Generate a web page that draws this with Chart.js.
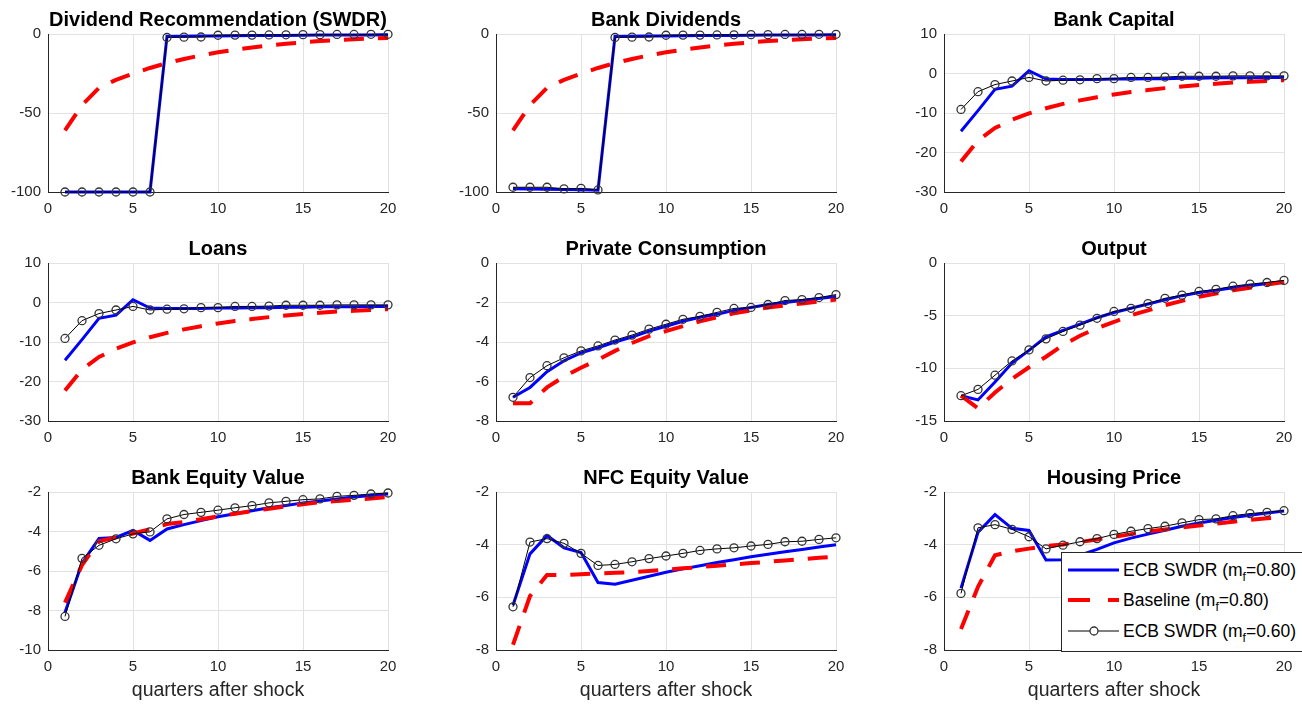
<!DOCTYPE html>
<html lang="en">
<head>
<meta charset="UTF-8">
<title>ECB SWDR impulse responses</title>
<script src="https://cdn.jsdelivr.net/npm/chart.js"></script>
<style>
  body { margin: 0; background: #fff; overflow: hidden; font-family: "Liberation Sans", Arial, sans-serif; }
  #wrap { position: relative; width: 1302px; height: 704px; overflow: hidden; }
  #wrap canvas { position: absolute; }
  #legend {
    position: absolute; left: 1061px; top: 552px; width: 260px; height: 98px;
    background: #fff; border: 1px solid #262626; z-index: 5;
  }
  #legend .row { position: absolute; left: 0; height: 20px; width: 260px; }
  #legend svg { position: absolute; left: 0; top: 0; }
  #legend span { position: absolute; left: 61px; top: 0; line-height: 20px; font-size: 17.5px; color: #000; white-space: nowrap; }
  #legend sub { font-size: 12px; vertical-align: -5px; line-height: 0; }
</style>
</head>
<body>
<div id="wrap">
  <div id="legend">
    <div class="row" style="top:7px">
      <svg width="60" height="20"><line x1="6" y1="10" x2="57" y2="10" stroke="#0000ff" stroke-width="3"/></svg>
      <span>ECB SWDR (m<sub>f</sub>=0.80)</span>
    </div>
    <div class="row" style="top:37px">
      <svg width="60" height="20"><line x1="6" y1="10" x2="57" y2="10" stroke="#ff0000" stroke-width="4" stroke-dasharray="22 18"/></svg>
      <span>Baseline (m<sub>f</sub>=0.80)</span>
    </div>
    <div class="row" style="top:68px">
      <svg width="60" height="20"><line x1="6" y1="10" x2="57" y2="10" stroke="#000" stroke-width="1"/><circle cx="32" cy="10" r="4" fill="#fff" stroke="#333" stroke-width="1.3"/></svg>
      <span>ECB SWDR (m<sub>f</sub>=0.60)</span>
    </div>
  </div>
</div>

<script>
  // quarters after shock
  const quarters = [1,2,3,4,5,6,7,8,9,10,11,12,13,14,15,16,17,18,19,20];
  const xTicks = [0,5,10,15,20];

  // Dividend Recommendation (SWDR)
  const divRecBlue  = [-100,-100,-100,-100,-100,-100,-1.5,-1.4,-1.3,-1.2,-1.1,-1.0,-0.9,-0.9,-0.8,-0.7,-0.7,-0.6,-0.6,-0.5];
  const divRecRed   = [-61,-45,-34,-29,-25,-21.5,-18.4,-15.8,-13.5,-11.6,-9.9,-8.5,-7.2,-6.2,-5.3,-4.5,-3.9,-3.3,-2.9,-2.5];
  const divRecBlack = [-100,-100,-100,-100,-100,-100,-2.2,-2.0,-1.9,-0.8,-0.7,-0.7,-0.6,-0.5,-0.4,-0.4,-0.3,-0.3,-0.2,-0.2];
  const divRecTicks = [-100,-50,0];

  // Bank Dividends
  const divBlue  = [-98,-98.1,-98.2,-98.4,-98.6,-98.9,-1.5,-1.4,-1.3,-1.2,-1.1,-1.0,-0.9,-0.9,-0.8,-0.7,-0.7,-0.6,-0.6,-0.5];
  const divRed   = [-61,-45,-34,-29,-25,-21.5,-18.4,-15.8,-13.5,-11.6,-9.9,-8.5,-7.2,-6.2,-5.3,-4.5,-3.9,-3.3,-2.9,-2.5];
  const divBlack = [-97,-97,-97,-98,-97.7,-98.7,-2.2,-2.0,-1.9,-0.8,-0.7,-0.7,-0.6,-0.5,-0.4,-0.4,-0.3,-0.3,-0.2,-0.2];
  const divTicks = [-100,-50,0];

  // Bank Capital
  const capBlue  = [-14.6,-9.4,-4.0,-3.2,0.7,-1.4,-1.5,-1.5,-1.5,-1.4,-1.4,-1.3,-1.3,-1.2,-1.2,-1.1,-1.1,-1.1,-1.0,-1.0];
  const capRed   = [-22.3,-17.0,-13.8,-11.7,-10.1,-8.8,-7.7,-6.8,-6.0,-5.3,-4.7,-4.2,-3.7,-3.3,-2.9,-2.6,-2.3,-2.1,-1.9,-1.7];
  const capBlack = [-9.1,-4.6,-2.8,-1.9,-1.0,-1.9,-1.7,-1.6,-1.3,-1.3,-1.0,-1.0,-0.9,-0.7,-0.7,-0.7,-0.6,-0.6,-0.6,-0.6];
  const capTicks = [-30,-20,-10,0,10];

  // Loans
  const loanBlue  = [-14.6,-9.4,-4.0,-3.2,0.7,-1.4,-1.5,-1.5,-1.5,-1.4,-1.4,-1.3,-1.3,-1.2,-1.2,-1.1,-1.1,-1.1,-1.0,-1.0];
  const loanRed   = [-22.3,-17.0,-13.8,-11.7,-10.1,-8.8,-7.7,-6.8,-6.0,-5.3,-4.7,-4.2,-3.7,-3.3,-2.9,-2.6,-2.3,-2.1,-1.9,-1.7];
  const loanBlack = [-9.1,-4.6,-2.8,-1.9,-1.0,-1.9,-1.7,-1.6,-1.3,-1.3,-1.0,-1.0,-0.9,-0.7,-0.7,-0.7,-0.6,-0.6,-0.6,-0.6];
  const loanTicks = [-30,-20,-10,0,10];

  // Private Consumption
  const pcBlue  = [-6.8,-6.3,-5.5,-4.95,-4.55,-4.3,-4.0,-3.75,-3.45,-3.2,-2.95,-2.75,-2.6,-2.4,-2.25,-2.1,-2.0,-1.9,-1.8,-1.7];
  const pcRed   = [-7.1,-7.1,-6.3,-5.75,-5.3,-4.9,-4.45,-4.05,-3.7,-3.45,-3.2,-2.95,-2.75,-2.55,-2.4,-2.25,-2.15,-2.05,-1.95,-1.85];
  const pcBlack = [-6.8,-5.8,-5.2,-4.8,-4.45,-4.2,-3.9,-3.65,-3.35,-3.1,-2.85,-2.7,-2.5,-2.3,-2.25,-2.1,-1.9,-1.85,-1.75,-1.6];
  const pcTicks = [-8,-6,-4,-2,0];

  // Output
  const outBlue  = [-12.6,-13.0,-11.3,-9.5,-8.3,-7.0,-6.4,-5.8,-5.2,-4.7,-4.3,-3.9,-3.5,-3.1,-2.8,-2.6,-2.35,-2.15,-1.95,-1.75];
  const outRed   = [-12.6,-13.8,-12.3,-11.0,-9.9,-8.9,-7.8,-6.9,-6.2,-5.6,-4.95,-4.5,-4.0,-3.6,-3.2,-2.9,-2.6,-2.35,-2.05,-1.8];
  const outBlack = [-12.6,-12.0,-10.65,-9.3,-8.25,-7.2,-6.5,-5.9,-5.25,-4.6,-4.3,-3.85,-3.35,-3.05,-2.7,-2.5,-2.2,-2.0,-1.85,-1.65];
  const outTicks = [-15,-10,-5,0];

  // Bank Equity Value
  const beBlue  = [-8.1,-5.6,-4.35,-4.3,-3.95,-4.45,-3.87,-3.65,-3.45,-3.25,-3.1,-2.95,-2.8,-2.68,-2.55,-2.45,-2.35,-2.25,-2.18,-2.1];
  const beRed   = [-7.6,-5.7,-4.5,-4.3,-4.1,-3.88,-3.62,-3.52,-3.38,-3.23,-3.1,-2.97,-2.85,-2.72,-2.62,-2.52,-2.45,-2.4,-2.33,-2.25];
  const beBlack = [-8.3,-5.36,-4.7,-4.37,-4.12,-4.02,-3.36,-3.14,-3.03,-2.92,-2.8,-2.69,-2.55,-2.47,-2.39,-2.35,-2.22,-2.17,-2.1,-2.05];
  const beTicks = [-10,-8,-6,-4,-2];

  // NFC Equity Value
  const nfcBlue  = [-6.3,-4.35,-3.65,-4.12,-4.3,-5.44,-5.5,-5.35,-5.2,-5.05,-4.92,-4.8,-4.68,-4.57,-4.46,-4.36,-4.27,-4.18,-4.09,-4.0];
  const nfcRed   = [-7.8,-5.95,-5.15,-5.15,-5.12,-5.1,-5.07,-5.04,-5.0,-4.95,-4.9,-4.85,-4.8,-4.75,-4.7,-4.65,-4.6,-4.55,-4.5,-4.45];
  const nfcBlack = [-6.36,-3.9,-3.77,-3.95,-4.33,-4.79,-4.75,-4.65,-4.53,-4.43,-4.33,-4.22,-4.16,-4.12,-4.05,-3.99,-3.89,-3.87,-3.8,-3.74];
  const nfcTicks = [-8,-6,-4,-2];

  // Housing Price
  const hpBlue  = [-5.65,-3.53,-2.86,-3.38,-3.46,-4.58,-4.57,-4.4,-4.18,-3.93,-3.75,-3.6,-3.45,-3.3,-3.18,-3.07,-2.97,-2.88,-2.8,-2.72];
  const hpRed   = [-7.2,-5.6,-4.4,-4.25,-4.15,-4.05,-3.99,-3.9,-3.8,-3.7,-3.6,-3.5,-3.42,-3.35,-3.27,-3.2,-3.13,-3.06,-3.0,-2.93];
  const hpBlack = [-5.85,-3.36,-3.24,-3.42,-3.7,-4.16,-4.02,-3.89,-3.77,-3.61,-3.49,-3.39,-3.3,-3.17,-3.05,-3.02,-2.9,-2.82,-2.77,-2.71];
  const hpTicks = [-8,-6,-4,-2];

  const panelTitles = ['Dividend Recommendation (SWDR)', 'Bank Dividends', 'Bank Capital',
                       'Loans', 'Private Consumption', 'Output',
                       'Bank Equity Value', 'NFC Equity Value', 'Housing Price'];
  const panelSeries = [
    [divRecBlue, divRecRed, divRecBlack], [divBlue, divRed, divBlack], [capBlue, capRed, capBlack],
    [loanBlue, loanRed, loanBlack], [pcBlue, pcRed, pcBlack], [outBlue, outRed, outBlack],
    [beBlue, beRed, beBlack], [nfcBlue, nfcRed, nfcBlack], [hpBlue, hpRed, hpBlack]
  ];
  const panelTicks = [divRecTicks, divTicks, capTicks, loanTicks, pcTicks, outTicks, beTicks, nfcTicks, hpTicks];
  const seriesNames = ['ECB SWDR (mf=0.80)', 'Baseline (mf=0.80)', 'ECB SWDR (mf=0.60)'];

  // layout of the grid (plot-area corners in page pixels)
  const plotLefts = [48, 496, 944];
  const plotTops = [34, 263, 492];
  const plotW = 340, plotH = 158;
  const yAxisW = 50, titleH = 35;

  const fontFamily = "'Liberation Sans', Arial, sans-serif";
  const axisColor = '#262626';
  const gridColor = '#e2e2e2';

  const wrap = document.getElementById('wrap');

  function toPoints(vals) {
    return quarters.map((q, k) => ({x: q, y: vals[k]}));
  }

  function makePanel(i) {
    const col = i % 3, row = Math.floor(i / 3);
    const bottomRow = row === 2;
    const xAxisH = bottomRow ? 52 : 30;

    const canvas = document.createElement('canvas');
    canvas.width = yAxisW * 2 + plotW;
    canvas.height = titleH + plotH + xAxisH;
    canvas.style.left = (plotLefts[col] - yAxisW) + 'px';
    canvas.style.top = (plotTops[row] - titleH) + 'px';
    wrap.appendChild(canvas);

    const s = panelSeries[i];
    const yt = panelTicks[i];

    new Chart(canvas, {
      type: 'line',
      data: {
        datasets: [
          {
            label: seriesNames[0], data: toPoints(s[0]),
            borderColor: '#0000ff', borderWidth: 3, pointRadius: 0,
            order: 2, clip: false
          },
          {
            label: seriesNames[1], data: toPoints(s[1]),
            borderColor: '#ff0000', borderWidth: 4, borderDash: [20, 14], pointRadius: 0,
            order: 1, clip: false
          },
          {
            label: seriesNames[2], data: toPoints(s[2]),
            borderColor: '#000000', borderWidth: 1,
            pointRadius: 4, pointBorderColor: '#333333', pointBorderWidth: 1.3,
            pointBackgroundColor: 'rgba(255,255,255,0)',
            order: 0, clip: false
          }
        ]
      },
      options: {
        responsive: false,
        animation: false,
        devicePixelRatio: 1,
        layout: { autoPadding: false, padding: 0 },
        plugins: {
          legend: { display: false },
          tooltip: { enabled: false },
          title: {
            display: true,
            text: panelTitles[i],
            color: '#000',
            font: { family: fontFamily, size: 20, weight: 'bold', lineHeight: 1 },
            padding: { top: 11, bottom: 4 }
          }
        },
        scales: {
          x: {
            type: 'linear',
            min: xTicks[0], max: xTicks[xTicks.length - 1],
            ticks: { stepSize: xTicks[1] - xTicks[0], padding: 8, color: axisColor, font: { family: fontFamily, size: 15 } },
            grid: { color: gridColor, drawTicks: false },
            border: { color: axisColor, width: 1 },
            title: {
              display: bottomRow, text: 'quarters after shock', color: axisColor,
              font: { family: fontFamily, size: 19.5 }, padding: 0
            },
            afterFit: (sc) => { sc.height = xAxisH; }
          },
          y: {
            type: 'linear',
            min: yt[0], max: yt[yt.length - 1],
            ticks: { stepSize: yt[1] - yt[0], padding: 7, color: axisColor, font: { family: fontFamily, size: 15 } },
            grid: { color: gridColor, drawTicks: false },
            border: { color: axisColor, width: 1 },
            afterFit: (sc) => { sc.width = yAxisW; }
          },
          yRight: {
            type: 'linear',
            position: 'right',
            display: true,
            ticks: { display: false },
            grid: { display: false, drawTicks: false },
            border: { display: false },
            afterFit: (sc) => { sc.width = yAxisW; }
          }
        }
      }
    });
  }

  for (let i = 0; i < panelTitles.length; i++) {
    makePanel(i);
  }
</script>
</body>
</html>
